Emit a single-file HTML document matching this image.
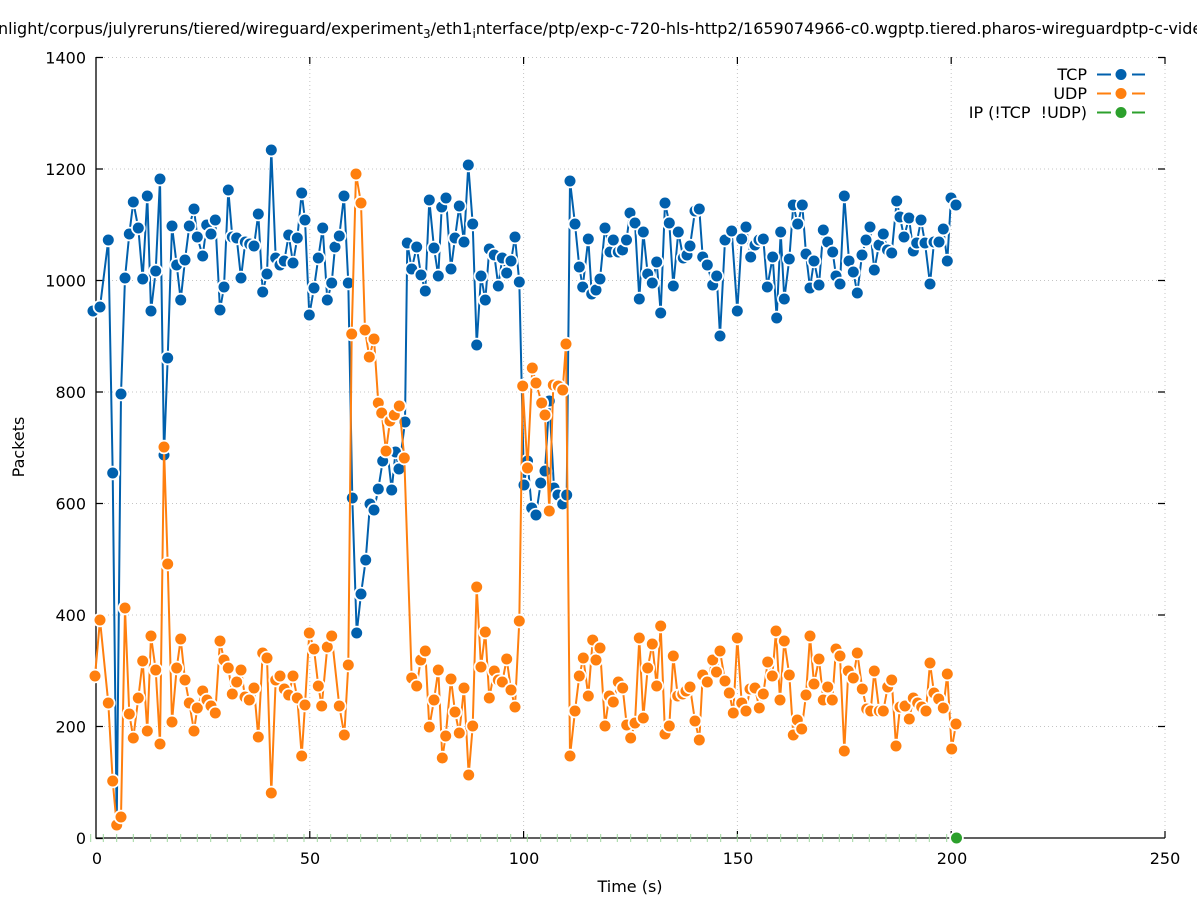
<!DOCTYPE html>
<html><head><meta charset="utf-8"><style>
html,body{margin:0;padding:0;background:#fff;width:1197px;height:900px;overflow:hidden}
svg{display:block}
text{font-family:"DejaVu Sans","Liberation Sans",sans-serif;fill:#000}
</style></head><body>
<svg width="1197" height="900" viewBox="0 0 1197 900" xmlns="http://www.w3.org/2000/svg">
<defs>
<marker id="mb" markerWidth="20" markerHeight="20" refX="10" refY="10" markerUnits="userSpaceOnUse" overflow="visible"><circle cx="10" cy="10" r="7.3" fill="#fff"/><circle cx="10" cy="10" r="5.5" fill="#0060ad"/></marker>
<marker id="mo" markerWidth="20" markerHeight="20" refX="10" refY="10" markerUnits="userSpaceOnUse" overflow="visible"><circle cx="10" cy="10" r="7.3" fill="#fff"/><circle cx="10" cy="10" r="5.5" fill="#ff7f0e"/></marker>
</defs>
<rect width="1197" height="900" fill="#fff"/>
<!-- title -->
<text x="-2" y="34" font-size="16">nlight/corpus/julyreruns/tiered/wireguard/experiment<tspan font-size="12" dy="4">3</tspan><tspan dy="-4">/eth1</tspan><tspan font-size="12" dy="4">i</tspan><tspan dy="-4">nterface/ptp/exp-c-720-hls-http2/1659074966-c0.wgptp.tiered.pharos-wireguardptp-c-video</tspan></text>
<!-- grid -->
<g stroke="#c4c4c4" stroke-width="1" stroke-dasharray="1,3" fill="none">
<path d="M104 726.5H1165M104 615H1165M104 503.5H1165M104 392H1165M104 280.5H1165M104 169H1165M104 57.5H1165"/>
<path d="M309.8 57V831M523.6 57V831M737.4 57V831M951.2 57V831M1165 57V831"/>
</g>
<!-- axes -->
<path d="M96 57V838H1165" stroke="#000" stroke-width="1.3" fill="none"/>
<g stroke="#000" stroke-width="1.2">
<path d="M96 838.5h7M96 726.5h7M96 615h7M96 503.5h7M96 392h7M96 280.5h7M96 169h7M96 57.5h7"/>
<path d="M1165 726.5h-7M1165 615h-7M1165 503.5h-7M1165 392h-7M1165 280.5h-7M1165 169h-7M1158 57.5h7"/>
<path d="M309.8 838v-7M523.6 838v-7M737.4 838v-7M951.2 838v-7M1165 838v-7"/>
<path d="M309.8 57v7M523.6 57v7M737.4 57v7M951.2 57v7M1165 57v7"/>
</g>
<!-- y labels -->
<g font-size="16" text-anchor="end">
<text x="86" y="844">0</text>
<text x="86" y="732.5">200</text>
<text x="86" y="621">400</text>
<text x="86" y="509.5">600</text>
<text x="86" y="398">800</text>
<text x="86" y="286.5">1000</text>
<text x="86" y="175">1200</text>
<text x="86" y="63.5">1400</text>
</g>
<g font-size="16" text-anchor="middle">
<text x="97" y="864">0</text>
<text x="310" y="864">50</text>
<text x="524" y="864">100</text>
<text x="738" y="864">150</text>
<text x="952" y="864">200</text>
<text x="1165" y="864">250</text>
<text x="630" y="892">Time (s)</text>
<text transform="translate(24 447) rotate(-90)">Packets</text>
</g>
<!-- green ticks (IP series at 0) -->
<path stroke="#9fd79f" stroke-width="1" fill="none" d="M90.7 834v8M103.3 834v8M116.7 834v8M133.3 834v8M150.7 834v8M167.3 834v8M180.7 834v8M197.3 834v8M210.7 834v8M227.3 834v8M240.7 834v8M257.3 834v8M274 834v8M287.3 834v8M304 834v8M317.3 834v8M330.7 834v8M347.3 834v8M360.7 834v8M377.3 834v8M390.7 834v8M407.3 834v8M420.7 834v8M437.3 834v8M450.7 834v8M467.3 834v8M480.7 834v8M497.3 834v8M510.7 834v8M527.3 834v8M540.7 834v8M557.3 834v8M570.7 834v8M587.3 834v8M600.7 834v8M617.3 834v8M630.7 834v8M647.3 834v8M660.7 834v8M677.3 834v8M690.7 834v8M707.3 834v8M720.7 834v8M737.3 834v8M750.7 834v8M767.3 834v8M780.7 834v8M797.3 834v8M809.3 834v8M822.7 834v8M839.3 834v8M852.7 834v8M869.3 834v8M886 834v8M899.3 834v8M916 834v8M929.3 834v8M946.7 834v8"/>
<!-- TCP -->
<polyline fill="none" stroke="#0060ad" stroke-width="2" stroke-linejoin="round" marker-start="url(#mb)" marker-mid="url(#mb)" marker-end="url(#mb)" points="93,311 100,307 108.3,240 112.7,473 116.7,826 121,394 125,278 129.3,234 133.3,202 138.3,228 142.7,279 147.3,196 151,311 155.7,271 160,179 164,455 167.7,358 172,226 176.7,265 180.7,300 185,260 189.3,226 194,209 197.3,237 202.7,256 206.7,225 211,234 215.3,220 220,310 224,287 228.3,190 232.3,237 236.7,238 241,278 245.3,242 249.7,244 254,246 258.3,214 262.7,292 267,274 271.3,150 275.7,258 280,265 284.3,261 288.7,235 293,263 297.3,238 301.7,193 305,220 309.3,315 314,288 318.3,258 322.7,228 327.3,300 331.7,283 335,247 339.3,236 344,196 348.3,283 352.3,498 356.7,633 361,594 365.7,560 370,504 374,510 378.3,489 382.7,461 387.3,450 391.7,490 395.5,452 399,469 405,422 407.3,243 411.7,269 416.7,247 421,275 425.3,291 429.3,200 434,248 438.3,276 441.7,207 446,198 451,269 455,238 459.3,206 464,242 468.3,165 472.7,224 476.7,345 481,276 485.3,300 489.3,249 494.3,255 498.3,286 502.3,258 506.7,273 511,261 515,237 519.3,282 524,485 527.5,461 531.7,508 536,515 540.7,483 545,471 549.3,401 554,488 558,495 562.7,504 566.7,495 570,181 575,224 579.3,267 582.7,287 588.3,239 591.7,294 596,290 600,279 605,228 610,252 613.3,240 618.3,252 622.5,250 626.5,240 630,213 635,223 639.3,299 643.3,232 647.7,274 652.3,283 656.7,262 660.7,313 665,203 669.3,223 673.3,286 678.3,232 683.3,258 687,255 690,246 695,211 699.3,209 702.7,257 707.3,265 712.7,285 716.7,276 720,336 725,240 731.7,231 737.3,311 741.7,239 746,227 750.7,257 755,245 759,240 763.3,239 767.3,287 772.7,257 776.7,318 780.7,232 784.3,299 789.3,259 793.3,205 797.7,224 802.3,205 806,254 810,288 814,261 819,285 823.3,230 827.7,242 832.7,252 836,276 840,284 844.3,196 849,261 853.3,272 857.3,293 862,255 866,240 870,227 874.3,270 879,245 883.3,234 887.5,250 891.7,253 896.7,201 900,217 904,237 909,218 913.3,251 916.7,243 921,220 925,243 930,284 934,242 939,242 943.3,229 947.3,261 951,198 956,205"/>
<!-- UDP -->
<polyline fill="none" stroke="#ff7f0e" stroke-width="2" stroke-linejoin="round" marker-start="url(#mo)" marker-mid="url(#mo)" marker-end="url(#mo)" points="95,676 100,620 108.3,703 112.7,781 116.7,825 121,817 125,608 129.3,714 133.3,738 138.3,698 142.7,661 147.3,731 151,636 155.7,670 160,744 164,447 167.7,564 172,722 176.7,668 180.7,639 185,680 189.3,703 194,731 197.3,708 202.7,691 207,700 211,706 215.3,713 220,641 224,660 228.3,668 232.3,694 236.7,682 241,670 245,697 249.3,700 254,688 258.3,737 262.7,653 267,658 271.3,793 275.7,680 280,676 284.3,689 288.7,695 293,676 297.3,698 301.7,756 305,705 309.3,633 314,649 318.3,686 321.7,706 327.3,647 331.7,636 339.3,706 344.3,735 348.3,665 351.7,334 356,174 361,203 365,330 369.3,357 374,339 378.3,403 381.7,413 386,451 390,421 394.3,415 399.3,406 404.3,458 411.7,678 416.7,686 420.7,660 425.3,651 429.3,727 434,700 438.3,670 442.3,758 445.7,736 451,679 455,712 459.3,733 464,688 468.7,775 472.7,726 476.7,587 481,667 485.3,632 489.3,698 494.3,671 498.3,680 502.3,682 506.7,659 511,690 515,707 519.3,621 522.7,386 527.5,468 532.3,368 536,383 541.7,403 545,415 549.3,511 553.3,385 558.3,386 562.7,390 566,344 570,756 575,711 579.3,676 583.3,658 588.3,696 592.7,640 596,660 600,648 605,726 609.3,696 613.3,702 618.3,682 622.7,688 626.7,725 630.7,738 635,723 639.3,638 643.3,718 647.7,668 652.3,644 656.7,686 660.7,626 665,734 669.3,726 673.3,656 677.7,696 682.7,694 686,691 690,687 695,721 699.3,740 702.7,675 707.3,682 712.7,660 716.5,672 720,651 725,681 729.3,693 733.3,713 737.3,638 741.7,703 746,711 750,689 755,688 759.3,708 763.3,694 767.7,662 772.3,676 776,631 780,700 784.3,641 789.3,675 793.3,735 797.3,720 801.7,729 806,695 810,636 814,684 819,659 823.3,700 827.7,687 832.3,700 836,649 840,656 844.3,751 848.3,671 853.3,678 857.3,653 862.3,689 866.7,709 870.7,711 874.3,671 879.3,711 883.3,711 887.7,687 891.7,680 896,746 900,707 905,706 909.3,719 913.3,698 917.7,703 921.7,707 926,711 930,663 934,693 938.7,699 943.3,708 947.3,674 951.7,749 956,724"/>
<!-- IP point -->
<circle cx="956.5" cy="838" r="7.3" fill="#fff"/>
<circle cx="956.5" cy="838" r="5.5" fill="#2ca02c"/>
<!-- legend -->
<g font-size="16" text-anchor="end">
<text x="1087" y="80">TCP</text>
<text x="1087" y="99">UDP</text>
<text x="1087" y="118" style="white-space:pre">IP (!TCP  !UDP)</text>
</g>
<g stroke-width="2">
<path d="M1097 74.5h14M1132 74.5h13" stroke="#0060ad"/>
<path d="M1097 93.5h14M1132 93.5h13" stroke="#ff7f0e"/>
<path d="M1097 112.5h14M1132 112.5h13" stroke="#2ca02c"/>
</g>
<circle cx="1121" cy="74.5" r="5.5" fill="#0060ad"/>
<circle cx="1121" cy="93.5" r="5.5" fill="#ff7f0e"/>
<circle cx="1121" cy="112.5" r="5.5" fill="#2ca02c"/>
</svg>
</body></html>
